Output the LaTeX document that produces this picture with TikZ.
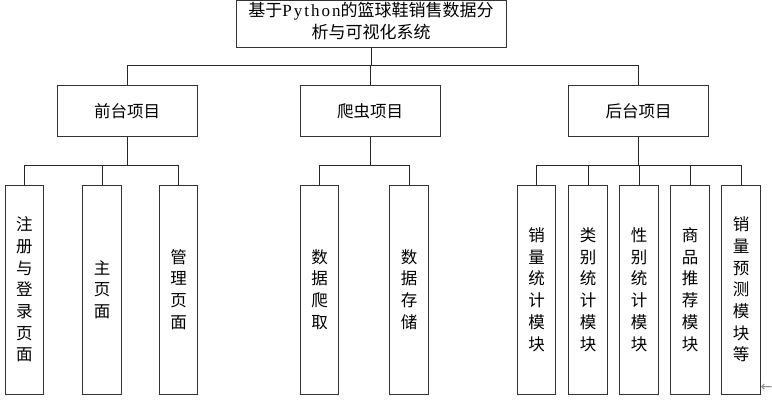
\documentclass[tikz,border=0pt]{standalone}
\usepackage{fontspec}
\setmainfont{Noto Sans CJK SC}
\newfontfamily\latinfont[LetterSpace=12]{Liberation Serif}
\newfontfamily\symfont{DejaVu Sans}
\begin{document}
\begin{tikzpicture}[x=1pt,y=-1pt,
  box/.style={draw=black!80, line width=0.8pt, fill=white, inner sep=0pt, align=center,
    font=\fontsize{16.5}{21.7}\selectfont},
  titlebox/.style={box, minimum width=270pt, minimum height=47pt},
  titletext/.style={inner sep=0pt, align=center, font=\fontsize{17}{21.5}\selectfont},
  midbox/.style={box, minimum width=140pt, minimum height=51pt},
  leafbox/.style={box, minimum width=38.5pt, minimum height=209pt},
  conn/.style={draw=black!85, line width=0.8pt}
]
\useasboundingbox (0,0) rectangle (772,400);

\node[titlebox] (root) at (371,23.5) {};
\node[titletext] (roottext) at (371,21) {基于{\latinfont Python}的篮球鞋销售数据分\\析与可视化系统};

\node[midbox] (front) at (127,110.8) {前台项目};
\node[midbox] (spider) at (370,110.8) {爬虫项目};
\node[midbox] (back) at (638.6,110.8) {后台项目};

\node[leafbox] (f1) at (24.5,289.5) {注\\册\\与\\登\\录\\页\\面};
\node[leafbox] (f2) at (102,289.5) {主\\页\\面};
\node[leafbox] (f3) at (178.5,289.5) {管\\理\\页\\面};

\node[leafbox] (s1) at (319.5,289.5) {数\\据\\爬\\取};
\node[leafbox] (s2) at (409,289.5) {数\\据\\存\\储};

\node[leafbox] (b1) at (536.5,289.5) {销\\量\\统\\计\\模\\块};
\node[leafbox] (b2) at (588,289.5) {类\\别\\统\\计\\模\\块};
\node[leafbox] (b3) at (639,289.5) {性\\别\\统\\计\\模\\块};
\node[leafbox] (b4) at (690,289.5) {商\\品\\推\\荐\\模\\块};
\node[leafbox] (b5) at (741,289.5) {销\\量\\预\\测\\模\\块\\等};

\coordinate (bar0) at (0,65.7);
\coordinate (bar1) at (0,165.3);

\foreach \c in {front,spider,back}
  \draw[conn] (root.south) -- (root.south |- bar0) -| (\c.north);
\foreach \c in {f1,f2,f3}
  \draw[conn] (front.south) -- (front.south |- bar1) -| (\c.north);
\foreach \c in {s1,s2}
  \draw[conn] (spider.south) -- (spider.south |- bar1) -| (\c.north);
\foreach \c in {b1,b2,b3,b4,b5}
  \draw[conn] (back.south) -- (back.south |- bar1) -| (\c.north);

\node[text=black!45, font=\symfont\fontsize{14}{14}\selectfont, inner sep=0pt] (mark) at (766.5,388) {←};
\end{tikzpicture}
\end{document}
